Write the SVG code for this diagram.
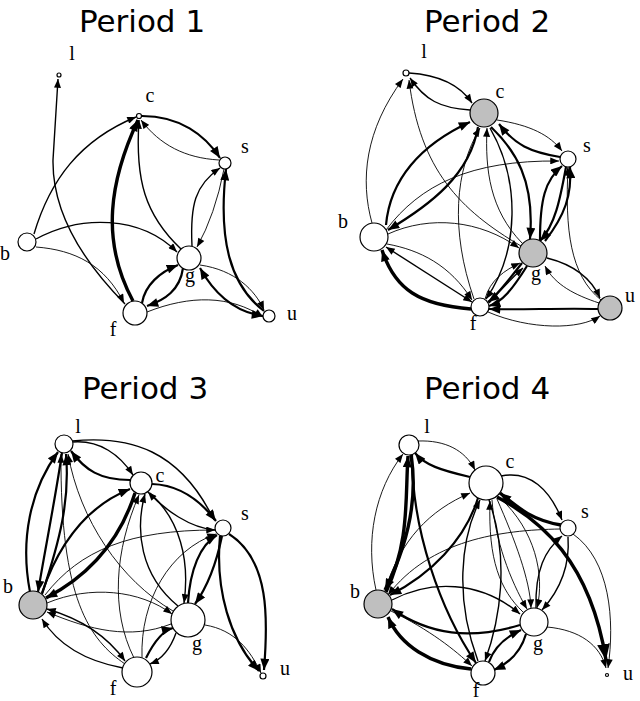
<svg xmlns="http://www.w3.org/2000/svg" width="640" height="701" viewBox="0 0 640 701">
<defs>
<marker id="a" viewBox="0 0 10 8" refX="10" refY="4" markerWidth="10" markerHeight="7" orient="auto-start-reverse" markerUnits="userSpaceOnUse"><path d="M0,0 L10,4 L0,8 z" fill="#000"/></marker>
<marker id="A" viewBox="0 0 10 8" refX="10" refY="4" markerWidth="12" markerHeight="9" orient="auto-start-reverse" markerUnits="userSpaceOnUse"><path d="M0,0 L10,4 L0,8 z" fill="#000"/></marker>
<marker id="B" viewBox="0 0 10 8" refX="10" refY="4" markerWidth="16" markerHeight="13" orient="auto-start-reverse" markerUnits="userSpaceOnUse"><path d="M0,0 L10,4 L0,8 z" fill="#000"/></marker>
</defs>
<style>
.title{font-family:"DejaVu Sans",sans-serif;font-size:31px;text-anchor:middle;fill:#000}
.lbl{font-family:"Liberation Serif",serif;font-size:20px;text-anchor:middle;fill:#000}
.n{fill:#fff;stroke:#000;stroke-width:1.2}
.gr{fill:#bfbfbf}
path.e{fill:none;stroke:#000;marker-end:url(#a)}
path.w1{stroke-width:0.9}
path.w2{stroke-width:1.4}
path.w3{stroke-width:2.2;marker-end:url(#A)}
path.w4{stroke-width:3.4;marker-end:url(#A)}
path.bi{marker-start:url(#a)}
path.biA{marker-start:url(#A)}
</style>
<rect width="640" height="701" fill="#fff"/>
<text class="title" x="142" y="32">Period 1</text>
<text class="title" x="487" y="32">Period 2</text>
<text class="title" x="145" y="399">Period 3</text>
<text class="title" x="487" y="399">Period 4</text>

<g id="connectors">
<!-- Panel 1 -->
<path class="e w2" d="M125,304 Q52,230 53,160 L58,79"/>
<path class="e w2" d="M34,234 C50,180 80,140 136,117"/>
<path class="e w2" d="M36,239 C80,215 140,215 177,252"/>
<path class="e w1" d="M36,247 C75,250 105,265 124,303"/>
<path class="e w4" d="M133,301 C100,240 110,180 138,120"/>
<path class="e w3" d="M142,116 C180,116 205,135 220,158"/>
<path class="e w1" d="M219,160 C185,158 160,145 141,120"/>
<path class="e w2" d="M181,249 C145,215 135,180 139,120"/>
<path class="e w2" d="M192,246 C190,205 195,185 220,168"/>
<path class="e w1" d="M224,169 Q215,215 197,247"/>
<path class="e w3" d="M264,311 C230,285 218,240 226,169"/>
<path class="e w1" d="M200,265 C235,270 255,290 264,310"/>
<path class="e w3 biA" d="M200,268 C215,295 235,312 263,316"/>
<path class="e w1" d="M147,312 C190,295 230,295 263,317"/>
<path class="e w3" d="M142,303 C145,285 160,272 178,265"/>
<path class="e w3" d="M183,268 C180,290 165,300 147,306"/>

<!-- Panel 2 -->
<path class="e w1" d="M372,223 C360,180 365,130 403,79"/>
<path class="e w2" d="M409,73 C440,75 460,85 472,103"/>
<path class="e w2" d="M470,110 C440,108 425,100 410,78"/>
<path class="e w1" d="M521,246 C460,210 420,170 409,80"/>
<path class="e w3" d="M386,225 C390,180 420,145 470,122"/>
<path class="e w3" d="M478,127 C470,175 430,205 388,230"/>
<path class="e w1" d="M386,230 C420,185 470,160 559,161"/>
<path class="e w1" d="M497,120 C530,125 550,135 562,151"/>
<path class="e w3" d="M560,157 C530,152 515,145 499,124"/>
<path class="e w3" d="M491,127 C515,150 535,180 530,239"/>
<path class="e w1" d="M522,243 C490,210 485,170 487,128"/>
<path class="e w1" d="M474,299 C450,230 455,170 480,128"/>
<path class="e w2" d="M490,128 C520,180 520,250 486,299"/>
<path class="e w3" d="M540,240 C540,200 545,180 562,166"/>
<path class="e w3" d="M566,167 C560,200 555,225 540,241"/>
<path class="e w3" d="M545,241 C565,215 572,195 570,167"/>
<path class="e w1" d="M601,300 C570,275 565,230 568,167"/>
<path class="e w2" d="M547,258 C575,265 592,280 600,298"/>
<path class="e w1" d="M599,303 C575,295 555,285 545,266"/>
<path class="e w3" d="M598,309 C560,308 520,310 489,309"/>
<path class="e w1" d="M488,312 C530,330 580,330 600,316"/>
<path class="e w1" d="M387,244 C420,250 450,265 472,300"/>
<path class="e w2 bi" d="M386,247 L472,302"/>
<path class="e w4" d="M471,309 C420,305 395,290 382,250"/>
<path class="e w1" d="M388,234 C430,215 480,220 519,248"/>
<path class="e w1" d="M485,299 C490,280 505,270 520,263"/>
<path class="e w3" d="M522,263 C505,285 495,297 488,302"/>
<path class="e w3" d="M527,266 C512,290 502,302 489,306"/>
<path class="e w2" d="M489,303 C503,287 513,277 523,268"/>

<!-- Panel 3 -->
<path class="e w3" d="M30,592 C20,540 30,490 58,452"/>
<path class="e w3" d="M62,453 C55,500 45,550 38,592"/>
<path class="e w3" d="M42,594 C60,540 70,500 66,454"/>
<path class="e w2" d="M73,442 C100,440 120,455 133,475"/>
<path class="e w3" d="M130,480 C100,480 85,470 71,451"/>
<path class="e w2" d="M72,441 C130,435 180,450 214,520"/>
<path class="e w3" d="M152,484 C180,485 200,500 216,521"/>
<path class="e w2" d="M215,530 C190,528 165,510 148,492"/>
<path class="e w3" d="M42,593 C60,540 90,505 130,489"/>
<path class="e w4" d="M135,493 C120,540 90,575 46,598"/>
<path class="e w1" d="M125,664 C90,640 60,600 61,454"/>
<path class="e w1" d="M173,611 C120,580 80,520 68,454"/>
<path class="e w1" d="M134,658 C110,610 115,550 139,495"/>
<path class="e w2" d="M178,606 C140,575 135,530 145,494"/>
<path class="e w2" d="M150,493 C180,520 190,560 184,603"/>
<path class="e w1" d="M45,595 C80,550 130,530 215,530"/>
<path class="e w1" d="M142,658 C140,600 170,550 216,534"/>
<path class="e w3" d="M188,603 C190,570 200,545 217,535"/>
<path class="e w3" d="M222,536 C215,570 205,590 195,604"/>
<path class="e w3" d="M220,536 C215,590 230,640 259,671"/>
<path class="e w3" d="M229,534 C270,560 268,620 264,670"/>
<path class="e w1" d="M205,625 C235,630 250,650 261,673"/>
<path class="e w1" d="M47,603 C90,585 140,590 172,614"/>
<path class="e w1" d="M171,624 C130,640 90,630 47,612"/>
<path class="e w2" d="M123,668 C80,660 55,640 42,619"/>
<path class="e w2 bi" d="M47,609 C85,620 110,640 125,661"/>
<path class="e w3" d="M146,658 C155,640 165,630 173,628"/>
<path class="e w2" d="M176,633 C170,650 160,660 150,664"/>

<!-- Panel 4 -->
<path class="e w1" d="M418,441 C445,440 465,450 475,470"/>
<path class="e w3" d="M470,477 C440,470 425,465 415,453"/>
<path class="e w1" d="M376,590 C365,540 375,490 403,454"/>
<path class="e w4" d="M411,455 C420,510 400,560 385,590"/>
<path class="e w4" d="M386,592 C410,540 405,500 408,456"/>
<path class="e w3" d="M412,455 C412,530 440,610 476,663"/>
<path class="e w1" d="M385,591 C400,540 430,510 470,493"/>
<path class="e w3" d="M478,498 C465,540 430,575 390,595"/>
<path class="e w1" d="M560,529 C500,530 430,540 388,595"/>
<path class="e w2" d="M392,600 C430,580 480,580 520,614"/>
<path class="e w3" d="M520,625 C470,640 430,635 392,609"/>
<path class="e w4" d="M471,669 C430,665 400,645 388,617"/>
<path class="e w1" d="M391,611 C430,630 455,650 472,666" stroke="#666"/>
<path class="e w2" d="M478,661 C455,600 460,540 480,500"/>
<path class="e w2" d="M489,500 C510,560 500,620 485,661"/>
<path class="e w1" d="M492,500 C495,540 510,580 527,609"/>
<path class="e w1" d="M497,499 C515,540 530,580 531,608"/>
<path class="e w1" d="M500,498 C535,530 545,575 537,608"/>
<path class="e w1" d="M523,612 C500,590 488,560 490,501"/>
<path class="e w2" d="M501,476 C530,470 550,490 562,520"/>
<path class="e w4" d="M561,525 C530,520 515,505 500,493"/>
<path class="e w4" d="M497,497 C540,520 590,560 606,660" style="marker-end:url(#B)"/>
<path class="e w1" d="M573,534 C610,560 615,620 608,668"/>
<path class="e w1" d="M547,627 C580,630 600,645 606,668"/>
<path class="e w2" d="M536,608 C535,570 545,550 562,536"/>
<path class="e w2" d="M568,537 C570,565 560,590 542,610"/>
<path class="e w3" d="M489,662 C495,645 510,635 521,630"/>
<path class="e w3" d="M526,634 C520,655 505,665 494,670"/>
</g>

<g id="p1">
<g id="p1-l"><circle class="n" cx="59" cy="75" r="2"/><text class="lbl" x="72" y="60">l</text></g>
<g id="p1-c"><circle class="n" cx="139" cy="116" r="2.5"/><text class="lbl" x="150" y="102">c</text></g>
<g id="p1-s"><circle class="n" cx="225" cy="163" r="6"/><text class="lbl" x="245" y="153">s</text></g>
<g id="p1-b"><circle class="n" cx="27" cy="242" r="9"/><text class="lbl" x="5" y="260">b</text></g>
<g id="p1-g"><circle class="n" cx="189" cy="258" r="12"/><text class="lbl" x="190" y="282">g</text></g>
<g id="p1-f"><circle class="n" cx="135" cy="313" r="12"/><text class="lbl" x="113" y="336">f</text></g>
<g id="p1-u"><circle class="n" cx="269" cy="316" r="6"/><text class="lbl" x="292" y="320">u</text></g>
</g>
<g id="p2">
<g id="p2-l"><circle class="n" cx="406" cy="73" r="3"/><text class="lbl" x="424" y="58">l</text></g>
<g id="p2-c"><circle class="n gr" cx="484" cy="113" r="14"/><text class="lbl" x="500" y="98">c</text></g>
<g id="p2-s"><circle class="n" cx="568" cy="159" r="8"/><text class="lbl" x="587" y="152">s</text></g>
<g id="p2-b"><circle class="n" cx="374" cy="237" r="14"/><text class="lbl" x="343" y="228">b</text></g>
<g id="p2-g"><circle class="n gr" cx="533" cy="253" r="14"/><text class="lbl" x="536" y="280">g</text></g>
<g id="p2-f"><circle class="n" cx="480" cy="307" r="9"/><text class="lbl" x="473" y="330">f</text></g>
<g id="p2-u"><circle class="n gr" cx="610" cy="308" r="12"/><text class="lbl" x="630" y="302">u</text></g>
</g>
<g id="p3">
<g id="p3-l"><circle class="n" cx="64" cy="444" r="9"/><text class="lbl" x="78" y="433">l</text></g>
<g id="p3-c"><circle class="n" cx="141" cy="483" r="11"/><text class="lbl" x="160" y="482">c</text></g>
<g id="p3-s"><circle class="n" cx="223" cy="528" r="8"/><text class="lbl" x="245" y="520">s</text></g>
<g id="p3-b"><circle class="n gr" cx="33" cy="605" r="14"/><text class="lbl" x="8" y="593">b</text></g>
<g id="p3-g"><circle class="n" cx="188" cy="620" r="17"/><text class="lbl" x="197" y="650">g</text></g>
<g id="p3-f"><circle class="n" cx="137" cy="672" r="15"/><text class="lbl" x="113" y="695">f</text></g>
<g id="p3-u"><circle class="n" cx="263" cy="676" r="3"/><text class="lbl" x="285" y="675">u</text></g>
</g>
<g id="p4">
<g id="p4-l"><circle class="n" cx="409" cy="445" r="10"/><text class="lbl" x="427" y="433">l</text></g>
<g id="p4-c"><circle class="n" cx="486" cy="483" r="17"/><text class="lbl" x="510" y="468">c</text></g>
<g id="p4-s"><circle class="n" cx="568" cy="528" r="8"/><text class="lbl" x="585" y="518">s</text></g>
<g id="p4-b"><circle class="n gr" cx="378" cy="604" r="14"/><text class="lbl" x="355" y="598">b</text></g>
<g id="p4-g"><circle class="n" cx="534" cy="622" r="14"/><text class="lbl" x="538" y="650">g</text></g>
<g id="p4-f"><circle class="n" cx="483" cy="673" r="12"/><text class="lbl" x="476" y="697">f</text></g>
<g id="p4-u"><circle class="n" cx="607" cy="675" r="1.5"/><text class="lbl" x="628" y="680">u</text></g>
</g>
</svg>
